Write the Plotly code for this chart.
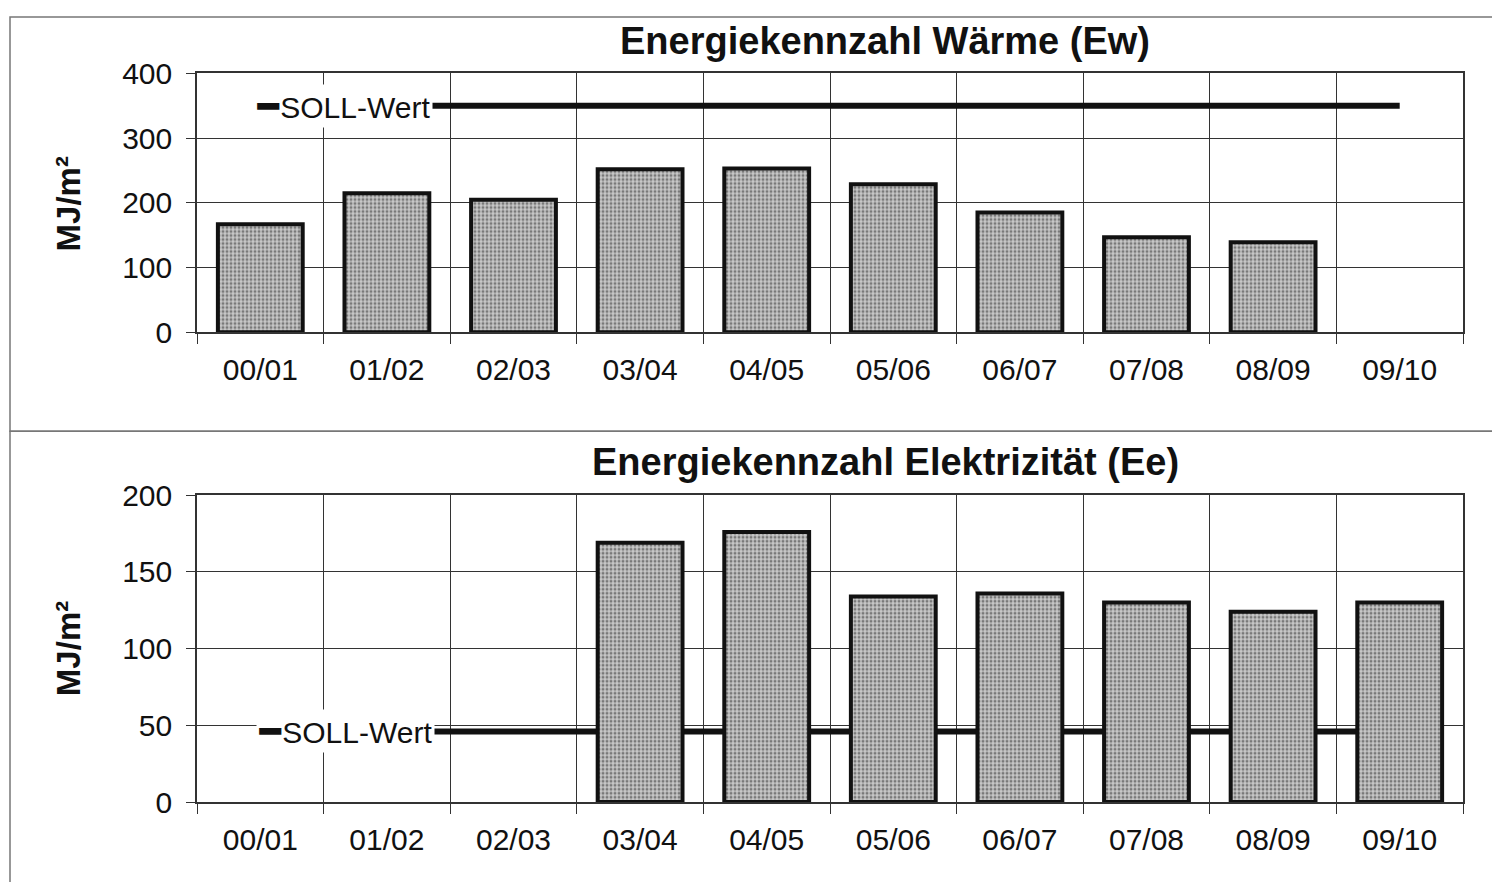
import plotly.graph_objects as go

categories = ["00/01", "01/02", "02/03", "03/04", "04/05", "05/06", "06/07", "07/08", "08/09", "09/10"]
waerme = [167, 215, 205, 252, 253, 229, 185, 147, 139, None]
waerme_soll = [350] * 10
elektro = [None, None, None, 169, 176, 134, 136, 130, 124, 130]
elektro_soll = [46] * 10

title_top = "Energiekennzahl Wärme (Ew)"
title_bottom = "Energiekennzahl Elektrizität (Ee)"
unit = "MJ/m²"
soll_name = "SOLL-Wert"

# calibration of the capture: picture_y ~= OFF + SCALE * figure_y
OFF, SCALE = 16.5, 0.965
W, H = 1492, 900
def px(x): return x / W
def py(y): return 1 - ((y - OFF) / SCALE) / H

FONT = "Liberation Sans, Arial, sans-serif"
TXT = "#111111"
GRID = "#333333"

fig = go.Figure()

bar_style = dict(
    marker=dict(
        color="#c0c0c0",
        line=dict(color="#111111", width=4),
        pattern=dict(shape=".", fgcolor="#2a2a2a", bgcolor="#c8c8c8", size=4, solidity=0.45),
    ),
    showlegend=False,
    hoverinfo="x+y",
)

# SOLL lines on base axes (drawn beneath the bars, which sit on overlay axes)
fig.add_trace(go.Scatter(x=categories, y=waerme_soll, mode="lines",
                         line=dict(color="#111111", width=6), xaxis="x", yaxis="y",
                         showlegend=False, name=soll_name))
fig.add_trace(go.Scatter(x=categories, y=elektro_soll, mode="lines",
                         line=dict(color="#111111", width=6), xaxis="x2", yaxis="y2",
                         showlegend=False, name=soll_name))
fig.add_trace(go.Bar(x=categories, y=waerme, xaxis="x3", yaxis="y3", **bar_style))
fig.add_trace(go.Bar(x=categories, y=elektro, xaxis="x4", yaxis="y4", **bar_style))

xdom = [px(197), px(1463)]
top_dom = [py(333), py(74)]
bot_dom = [py(803), py(496)]

xcommon = dict(
    type="category", categoryorder="array", categoryarray=categories,
    range=[-0.5, 9.5], domain=xdom, tickson="boundaries",
    showgrid=True, gridcolor=GRID, gridwidth=1.3,
    ticks="outside", ticklen=10, tickcolor=GRID, tickwidth=1.3,
    showline=True, linecolor=GRID, linewidth=1.6, mirror=True,
    tickfont=dict(family=FONT, size=30, color=TXT),
    ticklabelstandoff=10, fixedrange=True,
)
ycommon = dict(
    showgrid=True, gridcolor=GRID, gridwidth=1.3,
    ticks="outside", ticklen=9, tickcolor=GRID, tickwidth=1.3,
    showline=True, linecolor=GRID, linewidth=1.6, mirror=True,
    tickfont=dict(family=FONT, size=30, color=TXT),
    ticklabelstandoff=8, zeroline=False, fixedrange=True,
)
overlay_x = dict(type="category", categoryorder="array", categoryarray=categories,
                 range=[-0.5, 9.5], domain=xdom, visible=False, fixedrange=True)

fig.update_layout(
    width=W, height=H,
    margin=dict(l=0, r=0, t=0, b=0),
    paper_bgcolor="white", plot_bgcolor="white",
    bargap=0.33,
    xaxis=dict(anchor="y", **xcommon),
    yaxis=dict(anchor="x", domain=top_dom, range=[0, 400], dtick=100, **ycommon),
    xaxis2=dict(anchor="y2", **xcommon),
    yaxis2=dict(anchor="x2", domain=bot_dom, range=[0, 200], dtick=50, **ycommon),
    xaxis3=dict(overlaying="x", anchor="y3", **overlay_x),
    yaxis3=dict(overlaying="y", anchor="x3", domain=top_dom, range=[0, 400], visible=False, fixedrange=True),
    xaxis4=dict(overlaying="x2", anchor="y4", **overlay_x),
    yaxis4=dict(overlaying="y2", anchor="x4", domain=bot_dom, range=[0, 200], visible=False, fixedrange=True),
)

key = '<span style="font-size:34px"><b>━</b></span><span style="font-size:8px"> </span>'
annotations = [
    dict(text=f"<b>{title_top}</b>", x=px(885), y=py(42), xref="paper", yref="paper",
         xanchor="center", yanchor="middle",
         showarrow=False, font=dict(family=FONT, size=38, color=TXT)),
    dict(text=f"<b>{title_bottom}</b>", x=px(885), y=py(463), xref="paper", yref="paper",
         xanchor="center", yanchor="middle",
         showarrow=False, font=dict(family=FONT, size=38, color=TXT)),
    dict(text=f"<b>{unit}</b>", x=px(68), y=py(205), xref="paper", yref="paper", textangle=-90,
         xanchor="center", yanchor="middle",
         showarrow=False, font=dict(family=FONT, size=33, color=TXT)),
    dict(text=f"<b>{unit}</b>", x=px(68), y=py(650), xref="paper", yref="paper", textangle=-90,
         xanchor="center", yanchor="middle",
         showarrow=False, font=dict(family=FONT, size=33, color=TXT)),
    dict(text=key + soll_name, x=categories[0], y=waerme_soll[0], xref="x", yref="y",
         xanchor="left", yanchor="middle", xshift=-6, showarrow=False, bgcolor="white",
         borderpad=2, font=dict(family=FONT, size=30, color=TXT)),
    dict(text=key + soll_name, x=categories[0], y=elektro_soll[0], xref="x2", yref="y2",
         xanchor="left", yanchor="middle", xshift=-4, showarrow=False, bgcolor="white",
         borderpad=2, font=dict(family=FONT, size=30, color=TXT)),
]
fig.update_layout(annotations=annotations)

fig.update_layout(shapes=[
    dict(type="rect", xref="paper", yref="paper", x0=px(10), x1=1.02, y0=py(432), y1=py(17.5),
         line=dict(color="#777777", width=1.5), layer="below"),
    dict(type="rect", xref="paper", yref="paper", x0=px(10), x1=1.02, y0=py(920), y1=py(432),
         line=dict(color="#777777", width=1.5), layer="below"),
])

fig.write_html(
    "out.html",
    config={"displayModeBar": False},
    post_script=(
        "document.body.style.margin='0';"
        "document.body.style.overflow='hidden';"
    ),
)
